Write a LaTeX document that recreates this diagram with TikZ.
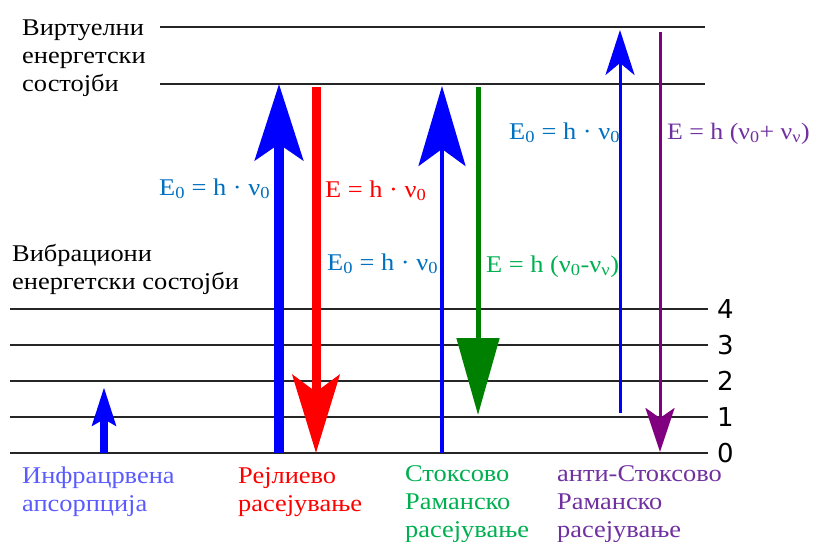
\documentclass[tikz,border=0pt]{standalone}
\usepackage{fontspec}
\setmainfont[FakeStretch=1.1]{Liberation Serif}
\newfontfamily\numfont{DejaVu Sans}
\usetikzlibrary{arrows.meta}

\definecolor{eqblue}{RGB}{0,112,192}
\definecolor{eqgreen}{RGB}{0,176,80}
\definecolor{eqpurple}{RGB}{112,48,160}
\definecolor{irblue}{RGB}{90,90,255}
\definecolor{arrgreen}{RGB}{0,128,0}
\definecolor{arrpurple}{RGB}{128,0,128}

\begin{document}
\begin{tikzpicture}[x=1pt, y=-1pt,
        level/.style={line width=1.8pt, draw=black!85},
        txt/.style={anchor=base west, inner sep=0pt, align=left,
                    font=\fontsize{24}{27.8}\selectfont},
        num/.style={anchor=base west, inner sep=0pt, font=\numfont\fontsize{26}{26}\selectfont},
        irup/.style={line width=8pt, draw=blue, fill=blue,
                     -{Stealth[length=38pt, width=23pt, inset=6pt]}},
        rayup/.style={line width=10pt, draw=blue, fill=blue,
                      -{Stealth[length=76pt, width=48pt, inset=16pt]}},
        raydown/.style={line width=9pt, draw=red, fill=red,
                        -{Stealth[length=78pt, width=47pt, inset=17pt]}},
        stokesup/.style={line width=4pt, draw=blue, fill=blue,
                         -{Stealth[length=80pt, width=47pt, inset=17pt]}},
        stokesdown/.style={line width=5pt, draw=arrgreen, fill=arrgreen,
                           -{Triangle[length=77pt, width=42pt]}},
        antiup/.style={line width=3pt, draw=blue, fill=blue,
                       -{Stealth[length=45pt, width=29pt, inset=12pt]}},
        antidown/.style={line width=3pt, draw=arrpurple, fill=arrpurple,
                         -{Stealth[length=44pt, width=29pt, inset=10pt]}}
    ]
        \useasboundingbox (0,0) rectangle (814,541);

        % energy levels
        \draw[level] (160,27) -- (705,27);
        \draw[level] (160,84) -- (705,84);
        \foreach \n/\y in {0/453, 1/417, 2/381, 3/345, 4/309} {
            \draw[level] (10,\y) -- (708,\y);
            \node[num] (lev\n) at (717,\y+9) {\n};
        }

        \node[txt] (virt) at (22,91) {Виртуелни\\енергетски\\состојби};
        \node[txt] (vib)  at (12,289) {Вибрациони\\енергетски состојби};

        % arrow ends
        \coordinate (irS)  at (104,453);  \coordinate (irE)  at (104,387);
        \coordinate (rayS) at (279,453);  \coordinate (rayE) at (279,84);
        \coordinate (rdS)  at (316,87);   \coordinate (rdE)  at (316,453);
        \coordinate (stS)  at (442,453);  \coordinate (stE)  at (442,86);
        \coordinate (sdS)  at (478,87);   \coordinate (sdE)  at (478,415);
        \coordinate (asS)  at (620,413);  \coordinate (asE)  at (620,30);
        \coordinate (adS)  at (660,32);   \coordinate (adE)  at (660,452);

        \draw[irup]       (irS)  -- (irE);
        \draw[rayup]      (rayS) -- (rayE);
        \draw[raydown]    (rdS)  -- (rdE);
        \draw[stokesup]   (stS)  -- (stE);
        \draw[stokesdown] (sdS)  -- (sdE);
        \draw[antiup]     (asS)  -- (asE);
        \draw[antidown]   (adS)  -- (adE);

        % energies
        \node[txt, text=eqblue]   (eqray)  at (159,195) {E\textsubscript{0} = h · ν\textsubscript{0}};
        \node[txt, text=red]      (eqrd)   at (325,197) {E = h · ν\textsubscript{0}};
        \node[txt, text=eqblue]   (eqst)   at (327,270) {E\textsubscript{0} = h · ν\textsubscript{0}};
        \node[txt, text=eqgreen]  (eqsd)   at (486,272) {E = h (ν\textsubscript{0}-ν\textsubscript{ν})};
        \node[txt, text=eqblue]   (eqas)   at (509,139) {E\textsubscript{0} = h · ν\textsubscript{0}};
        \node[txt, text=eqpurple, font=\fontsize{23.5}{27.8}\selectfont]
                                  (eqad)   at (667,139) {E = h (ν\textsubscript{0}+ ν\textsubscript{ν})};

        % processes
        \node[txt, text=irblue]   (labir)  at (22,511)  {Инфрацрвена\\апсорпција};
        \node[txt, text=red]      (labray) at (238,511) {Рејлиево\\расејување};
        \node[txt, text=eqgreen]  (labst)  at (405,537) {Стоксово\\Раманско\\расејување};
        \node[txt, text=eqpurple] (labas)  at (557,537) {анти-Стоксово\\Раманско\\расејување};
\end{tikzpicture}
\end{document}
